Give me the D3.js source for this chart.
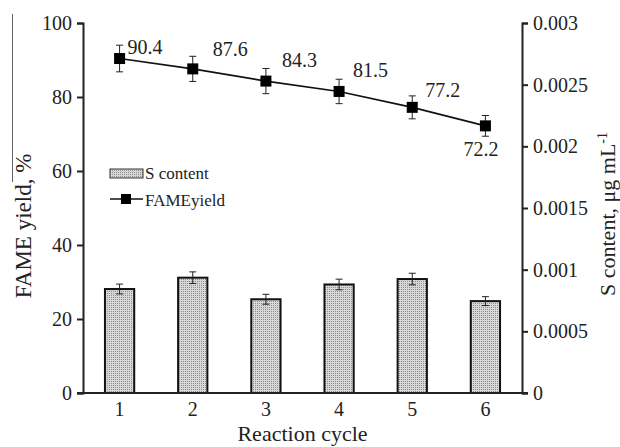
<!DOCTYPE html>
<html>
<head>
<meta charset="utf-8">
<script src="https://cdn.jsdelivr.net/npm/d3@7"></script>
<style>
  body { margin: 0; background: #fff; }
  svg, svg text { font-family: "Liberation Serif", "Times New Roman", serif; }
  .axis path, .axis line { stroke: #222; stroke-width: 2; }
  .axis text { font-size: 20px; fill: #222; }
</style>
</head>
<body>
<script>
// data
var cycles = ['1', '2', '3', '4', '5', '6'];
var fameYield = [90.4, 87.6, 84.3, 81.5, 77.2, 72.2];
var fameErr = [3.6, 3.4, 3.4, 3.3, 3.1, 2.8];
var sContent = [0.000843, 0.000935, 0.00076, 0.00088, 0.000924, 0.000745];
var sErr = [0.00004, 0.000047, 0.00004, 0.000043, 0.000047, 0.000036];
var leftTicks = [0, 20, 40, 60, 80, 100];
var rightTicks = [0, 0.0005, 0.001, 0.0015, 0.002, 0.0025, 0.003];

// label offsets (px) from each marker
var labelOffsets = [[8, -5], [20, -13], [16, -14], [14, -14], [13, -10], [-22, 30]];

var margin = { top: 23, left: 83, right: 98, bottom: 54 };
var W = 620, H = 447;
var w = W - margin.left - margin.right,
    h = H - margin.top - margin.bottom;

var svg = d3.select('body').append('svg')
    .attr('width', W)
    .attr('height', H);

// dotted grey fill for the bars
var defs = svg.append('defs');
var pat = defs.append('pattern')
    .attr('id', 'dots')
    .attr('width', 2).attr('height', 2)
    .attr('patternUnits', 'userSpaceOnUse');
pat.append('rect').attr('width', 2).attr('height', 2).attr('fill', '#d8d8d8');
pat.append('rect').attr('width', 1).attr('height', 1).attr('fill', '#8e8e8e');

// stray crop edge on the far left of the original
svg.append('line')
    .attr('x1', 12.5).attr('x2', 12.5)
    .attr('y1', 14).attr('y2', 182)
    .attr('stroke', '#666').attr('stroke-width', 1);

var g = svg.append('g').attr('transform', translation(margin.left, margin.top));

var x = d3.scaleBand().domain(cycles).range([0, w]);
var yL = d3.scaleLinear().domain([0, 100]).range([h, 0]);
var yR = d3.scaleLinear().domain([0, 0.003]).range([h, 0]);

var barW = x.bandwidth() * 0.4;
function cx(d) { return x(d) + x.bandwidth() / 2; }

// bars
var bars = cycles.map(function (c, i) { return { c: c, v: sContent[i], e: sErr[i] }; });
g.selectAll('.bar').data(bars).enter().append('rect')
    .attr('class', 'bar')
    .attr('x', function (d) { return cx(d.c) - barW / 2; })
    .attr('y', function (d) { return yR(d.v); })
    .attr('width', barW)
    .attr('height', function (d) { return h - yR(d.v); })
    .attr('fill', 'url(#dots)')
    .attr('stroke', '#111')
    .attr('stroke-width', 2);

errorBars(g, bars, function (d) { return yR(d.v + d.e); }, function (d) { return yR(d.v - d.e); });

// axes
g.append('g').attr('class', 'axis')
    .call(d3.axisLeft(yL).tickValues(leftTicks).tickSize(6).tickPadding(5))
    .attr('font-family', null);

g.append('g').attr('class', 'axis')
    .attr('transform', translation(w, 0))
    .call(d3.axisRight(yR).tickValues(rightTicks).tickSize(6).tickPadding(5)
        .tickFormat(function (d) { return String(+d.toFixed(4)); }))
    .attr('font-family', null);

g.append('g').attr('class', 'axis')
    .attr('transform', translation(0, h))
    .call(d3.axisBottom(x).tickSize(0).tickPadding(9))
    .attr('font-family', null)
    .select('.domain').attr('d', 'M-6,0H' + (w + 6));

// FAME yield line
var pts = cycles.map(function (c, i) { return { c: c, v: fameYield[i], e: fameErr[i], i: i }; });
g.append('path')
    .datum(pts)
    .attr('fill', 'none')
    .attr('stroke', '#111')
    .attr('stroke-width', 1.6)
    .attr('d', d3.line().x(function (d) { return cx(d.c); }).y(function (d) { return yL(d.v); }));

errorBars(g, pts, function (d) { return yL(d.v + d.e); }, function (d) { return yL(d.v - d.e); });

var ms = 11;
g.selectAll('.mk').data(pts).enter().append('rect')
    .attr('x', function (d) { return cx(d.c) - ms / 2; })
    .attr('y', function (d) { return yL(d.v) - ms / 2; })
    .attr('width', ms).attr('height', ms)
    .attr('fill', '#000');

g.selectAll('.lbl').data(pts).enter().append('text')
    .attr('x', function (d) { return cx(d.c) + labelOffsets[d.i][0]; })
    .attr('y', function (d) { return yL(d.v) + labelOffsets[d.i][1]; })
    .attr('font-size', '20px')
    .attr('fill', '#222')
    .text(function (d) { return d.v.toFixed(1); });

// legend
var lg = svg.append('g').attr('font-size', '17px').attr('fill', '#222');
lg.append('rect')
    .attr('x', 110).attr('y', 169).attr('width', 33).attr('height', 9)
    .attr('fill', 'url(#dots)').attr('stroke', '#333').attr('stroke-width', 1);
lg.append('text').attr('x', 145).attr('y', 179).text('S content');
lg.append('line')
    .attr('x1', 110).attr('x2', 143).attr('y1', 199).attr('y2', 199)
    .attr('stroke', '#111').attr('stroke-width', 1.6);
lg.append('rect')
    .attr('x', 121).attr('y', 194).attr('width', 10).attr('height', 10).attr('fill', '#000');
lg.append('text').attr('x', 145).attr('y', 206).text('FAMEyield');

// axis titles
svg.append('text')
    .attr('transform', translation(31, 226) + 'rotate(-90)')
    .attr('text-anchor', 'middle')
    .attr('font-size', '23px').attr('fill', '#222')
    .text('FAME yield, %');

var rt = svg.append('text')
    .attr('transform', translation(615, 214) + 'rotate(-90)')
    .attr('text-anchor', 'middle')
    .attr('font-size', '22px').attr('fill', '#222');
rt.append('tspan').text('S content, \u03bcg mL');
rt.append('tspan').attr('dy', -8).attr('font-size', '14px').text('-1');

svg.append('text')
    .attr('x', margin.left + w / 2).attr('y', 441)
    .attr('text-anchor', 'middle')
    .attr('font-size', '22px').attr('fill', '#222')
    .text('Reaction cycle');

function errorBars(sel, data, top, bot) {
    var eb = sel.append('g').attr('stroke', '#222').attr('stroke-width', 1);
    data.forEach(function (d) {
        var xc = cx(d.c), t = top(d), b = bot(d);
        eb.append('line').attr('x1', xc).attr('x2', xc).attr('y1', t).attr('y2', b);
        eb.append('line').attr('x1', xc - 3.5).attr('x2', xc + 3.5).attr('y1', t).attr('y2', t);
        eb.append('line').attr('x1', xc - 3.5).attr('x2', xc + 3.5).attr('y1', b).attr('y2', b);
    });
}

function translation(x, y) {
    return 'translate(' + x + ',' + y + ')';
}
</script>
</body>
</html>
